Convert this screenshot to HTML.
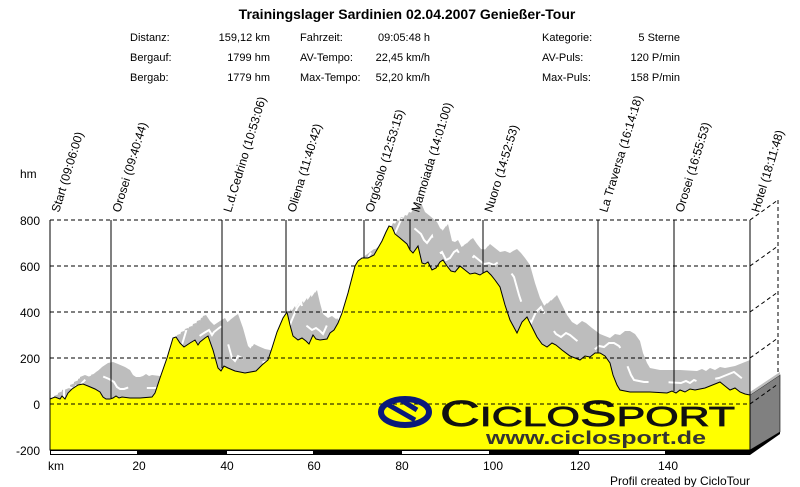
<!DOCTYPE html>
<html><head><meta charset="utf-8"><style>
body{margin:0;background:#fff;}
svg{display:block;font-family:"Liberation Sans",Arial,sans-serif;}
</style></head><body>
<svg width="800" height="487" viewBox="0 0 800 487">
<defs>
<path id="prof" d="M50,399 L55,397 L60,399 L62,396 L65,399 L68,393 L72,389 L78,385 L83,384 L88,386 L95,389 L100,392 L103,397 L106,399 L110,399 L113,398 L116,396 L119,398 L122,397 L130,398 L140,398 L152,397 L155,393 L160,378 L167,358 L173,338 L176,337 L180,343 L184,347 L190,343 L195,340 L198,345 L200,342 L205,338 L208,336 L213,350 L218,368 L221,371 L224,366 L228,368 L235,371 L245,373 L256,371 L262,365 L268,360 L272,348 L277,332 L283,318 L287,312 L290,325 L293,336 L298,340 L302,338 L306,341 L309,344 L313,335 L316,339 L320,340 L327,339 L330,333 L334,330 L338,323 L342,313 L348,293 L355,266 L358,261 L362,258 L368,258 L374,255 L378,248 L382,241 L386,232 L389,226 L392,227 L395,234 L400,238 L407,244 L410,250 L413,253 L418,246 L422,263 L425,264 L428,262 L432,270 L436,268 L440,262 L443,260 L447,266 L451,271 L455,272 L460,266 L465,270 L470,274 L475,273 L480,275 L483,273 L487,271 L491,275 L495,280 L500,287 L505,305 L510,320 L517,333 L522,322 L527,317 L532,327 L537,337 L542,344 L547,347 L552,343 L556,345 L562,350 L570,356 L575,358 L580,360 L585,356 L590,357 L595,353 L600,353 L605,356 L610,363 L613,375 L617,385 L620,390 L630,392 L650,392 L667,393 L672,391 L676,393 L680,390 L685,392 L690,389 L695,390 L700,389 L705,388 L710,386 L715,384 L720,382 L725,386 L730,390 L735,388 L740,392 L745,394 L750,395 L750,450 L50,450 Z"/>
</defs>
<text x="407" y="19" font-size="14" font-weight="bold" text-anchor="middle">Trainingslager Sardinien 02.04.2007 Genießer-Tour</text>
<g font-size="11">
<text x="130" y="41">Distanz:</text><text x="270" y="41" text-anchor="end">159,12 km</text>
<text x="300" y="41">Fahrzeit:</text><text x="430" y="41" text-anchor="end">09:05:48 h</text>
<text x="542" y="41">Kategorie:</text><text x="680" y="41" text-anchor="end">5 Sterne</text>
<text x="130" y="61">Bergauf:</text><text x="270" y="61" text-anchor="end">1799 hm</text>
<text x="300" y="61">AV-Tempo:</text><text x="430" y="61" text-anchor="end">22,45 km/h</text>
<text x="542" y="61">AV-Puls:</text><text x="680" y="61" text-anchor="end">120 P/min</text>
<text x="130" y="81">Bergab:</text><text x="270" y="81" text-anchor="end">1779 hm</text>
<text x="300" y="81">Max-Tempo:</text><text x="430" y="81" text-anchor="end">52,20 km/h</text>
<text x="542" y="81">Max-Puls:</text><text x="680" y="81" text-anchor="end">158 P/min</text>
</g>
<g fill="#bdbdbd">
<use href="#prof" transform="translate(4,-3)"/><use href="#prof" transform="translate(8,-6)"/>
<use href="#prof" transform="translate(12,-9)"/><use href="#prof" transform="translate(16,-11)"/>
<use href="#prof" transform="translate(20,-14)"/><use href="#prof" transform="translate(24,-17)"/>
<use href="#prof" transform="translate(28,-20)"/><use href="#prof" transform="translate(30,-22)"/>
</g>
<use href="#prof" transform="translate(14,-10)" fill="none" stroke="#fff" stroke-width="2" stroke-dasharray="30,20"/>
<rect x="750" y="220" width="50" height="240" fill="#fff"/>
<polygon points="750,395 780,375 780,432 750,450" fill="#808080" stroke="#000" stroke-width="0.6"/>
<polygon points="750,395 780,375 780,372 750,392" fill="#bdbdbd"/>
<use href="#prof" fill="#ffff00" stroke="#000" stroke-width="1"/>
<g stroke="#000" stroke-width="1" stroke-dasharray="4,3" fill="none">
<path d="M50,220H750M50,266H750M50,312H750M50,358H750M50,404H750"/>
<path d="M750,220L778,200M750,266L778,246M750,312L778,292M750,358L778,338M750,404L778,384"/>
<path d="M778,200V375"/>
</g>
<path d="M50,220V450" stroke="#000"/>
<g stroke="#000" stroke-width="1">
<path d="M111,220V398M222,220V368M286,220V313M364,220V258M410,220V250M483,220V273M598,220V353M674,220V391M750,220V450"/>
</g>
<rect x="50" y="450" width="700" height="5" fill="#000"/>
<rect x="51" y="451" width="86" height="3" fill="#fff"/>
<rect x="227" y="451" width="86" height="3" fill="#fff"/>
<rect x="402" y="451" width="87" height="3" fill="#fff"/>
<rect x="579" y="451" width="86" height="3" fill="#fff"/>
<polygon points="750,450 780,432 780,434 750,455" fill="#000"/>
<g transform="translate(405,412)">
<ellipse cx="0" cy="0" rx="24" ry="13" fill="none" stroke="#0a1a7a" stroke-width="6"/>
<path d="M-18,-8 L10,8 M-4,-12 L12,-2" stroke="#0a1a7a" stroke-width="5"/>
</g>
<text x="440" y="426" font-size="36" fill="#111" stroke="#111" stroke-width="0.8" textLength="295" lengthAdjust="spacingAndGlyphs">C<tspan font-size="28">ICLO</tspan>S<tspan font-size="28">PORT</tspan></text>
<text x="486" y="444" font-size="18" font-weight="bold" fill="#333" textLength="220" lengthAdjust="spacingAndGlyphs">www.ciclosport.de</text>
<g font-size="12" text-anchor="end">
<text x="40" y="225">800</text><text x="40" y="271">600</text><text x="40" y="317">400</text>
<text x="40" y="363">200</text><text x="40" y="409">0</text><text x="40" y="455">-200</text>
</g>
<text x="20" y="178" font-size="12">hm</text>
<g font-size="12" text-anchor="middle">
<text x="56" y="470">km</text><text x="139" y="470">20</text><text x="227" y="470">40</text>
<text x="314" y="470">60</text><text x="402" y="470">80</text><text x="493" y="470">100</text>
<text x="580" y="470">120</text><text x="668" y="470">140</text>
</g>
<text x="750" y="485" font-size="12" text-anchor="end">Profil created by CicloTour</text>
<g font-size="12">
<text transform="translate(59,213) rotate(-73)">Start (09:06:00)</text>
<text transform="translate(120,213) rotate(-73)">Orosei (09:40:44)</text>
<text transform="translate(231,213) rotate(-73)">L.d.Cedrino (10:53:06)</text>
<text transform="translate(295,213) rotate(-73)">Oliena (11:40:42)</text>
<text transform="translate(373,213) rotate(-73)">Orgósolo (12:53:15)</text>
<text transform="translate(419,213) rotate(-73)">Mamoiada (14:01:00)</text>
<text transform="translate(492,213) rotate(-73)">Nuoro (14:52:53)</text>
<text transform="translate(607,213) rotate(-73)">La Traversa (16:14:18)</text>
<text transform="translate(683,213) rotate(-73)">Orosei (16:55:53)</text>
<text transform="translate(759,213) rotate(-73)">Hotel (18:11:48)</text>
</g>
</svg>
</body></html>
